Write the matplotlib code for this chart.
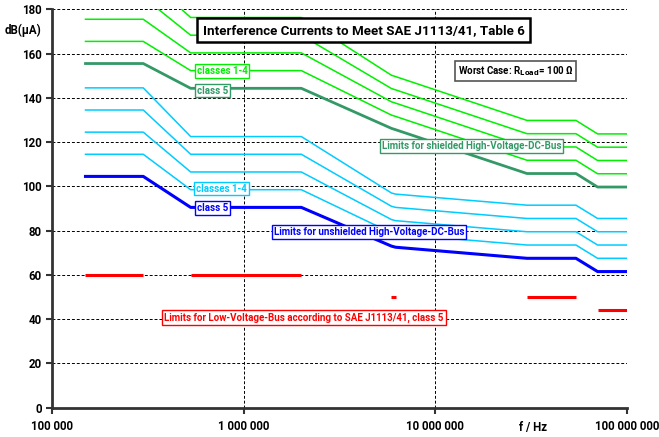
import matplotlib
matplotlib.use("Agg")
import matplotlib.pyplot as plt
from matplotlib.ticker import FixedLocator, NullLocator

plt.rcParams['font.family'] = ['Roboto', 'DejaVu Sans']
plt.rcParams['font.weight'] = 'bold'

# ---------------- data ----------------
freqs = [150e3, 300e3, 530e3, 2e6, 5.9e6, 6.2e6, 30e6, 54e6, 70e6, 100e6]

unshielded_class5 = [104.5, 104.5, 90.5, 90.5, 73.0, 72.5, 67.5, 67.5, 61.5, 61.5]
unshielded_class4 = [114.5, 114.5, 98.5, 98.5, 79.0, 78.5, 73.5, 73.5, 67.5, 67.5]
unshielded_class3 = [124.5, 124.5, 106.5, 106.5, 85.0, 84.5, 79.5, 79.5, 73.5, 73.5]
unshielded_class2 = [134.5, 134.5, 114.5, 114.5, 91.0, 90.5, 85.5, 85.5, 79.5, 79.5]
unshielded_class1 = [144.5, 144.5, 122.5, 122.5, 97.0, 96.5, 91.5, 91.5, 85.5, 85.5]

shielded_class5 = [155.5, 155.5, 144.3, 144.3, 126.2, 125.6, 105.8, 105.8, 99.7, 99.7]
shielded_class4 = [165.5, 165.5, 152.3, 152.3, 132.2, 131.6, 111.8, 111.8, 105.7, 105.7]
shielded_class3 = [175.5, 175.5, 160.3, 160.3, 138.2, 137.6, 117.8, 117.8, 111.7, 111.7]
shielded_class2 = [185.5, 185.5, 168.3, 168.3, 144.2, 143.6, 123.8, 123.8, 117.7, 117.7]
shielded_class1 = [195.5, 195.5, 176.3, 176.3, 150.2, 149.6, 129.8, 129.8, 123.7, 123.7]

lv_band_start = [150e3, 530e3, 5.9e6, 30e6, 70e6]
lv_band_end = [300e3, 2e6, 6.2e6, 54e6, 100e6]
lv_class5 = [60, 60, 50, 50, 44]

x_ticks = [1e5, 1e6, 1e7, 1e8]
x_tick_labels = ["100 000", "1 000 000", "10 000 000", "100 000 000"]
y_ticks = list(range(0, 181, 20))

# ---------------- styles ----------------
W, H = 659, 437
LIME = '#00F000'
SEA = '#339966'
SKY = '#00CCFF'
BLUE = '#0000FF'
RED = '#FF0000'

fig = plt.figure(figsize=(W / 100, H / 100), dpi=100)
ax = fig.add_axes([51.7 / W, 1 - 407.7 / H, (627.3 - 51.7) / W, (407.7 - 9.3) / H])

for s in (shielded_class1, shielded_class2, shielded_class3, shielded_class4):
    ax.plot(freqs, s, color=LIME, lw=1.1, zorder=3)
ax.plot(freqs, shielded_class5, color=SEA, lw=2.0, zorder=3)
for s in (unshielded_class1, unshielded_class2, unshielded_class3, unshielded_class4):
    ax.plot(freqs, s, color=SKY, lw=1.1, zorder=3)
ax.plot(freqs, unshielded_class5, color=BLUE, lw=2.2, zorder=3)
ax.hlines(lv_class5, lv_band_start, lv_band_end, colors=RED, lw=2.2, zorder=3)

ax.set_xscale('log')
ax.set_xlim(1e5, 1e8)
ax.set_ylim(0, 180)
ax.xaxis.set_major_locator(FixedLocator(x_ticks))
ax.xaxis.set_minor_locator(NullLocator())
ax.set_xticklabels(x_tick_labels)
ax.set_yticks(y_ticks)
ax.grid(True, which='major', color='black', lw=0.7, linestyle=(0, (3, 2)))
for side in ('top', 'right'):
    ax.spines[side].set_visible(False)
for side in ('left', 'bottom'):
    ax.spines[side].set_color('#333333')
    ax.spines[side].set_linewidth(2.0)
ax.tick_params(axis='both', which='major', direction='out', length=4, width=1.5,
               color='#333333', labelsize=8.3, pad=3)
ax.tick_params(axis='x', pad=5)
for lbl in ax.get_xticklabels() + ax.get_yticklabels():
    lbl.set_fontweight('bold')


def px(x, y):
    return x / W, 1 - y / H


def box(x, y, text, color, fs=7.0, lw=1.0, ec=None, ha='center'):
    fig.text(*px(x, y), text, color=color, fontsize=fs, fontweight='bold',
             ha=ha, va='center', zorder=10,
             bbox=dict(boxstyle='square,pad=0.2', fc='white',
                       ec=ec if ec else color, lw=lw))


# axis labels
fig.text(*px(23, 30), "dB(µA)", fontsize=8.3, fontweight='bold', ha='center', va='center')
fig.text(*px(533, 427), "f / Hz", fontsize=8.3, fontweight='bold', ha='center', va='center')

# title
fig.text(*px(363.5, 30.3), "Interference Currents to Meet SAE J1113/41, Table 6",
         fontsize=9.6, fontweight='bold', ha='center', va='center', zorder=10,
         bbox=dict(boxstyle='square,pad=0.4', fc='white', ec='black', lw=1.8))

# worst case
fig.text(*px(515.5, 71.3), r"Worst Case: R$_{\mathbf{Load}}$= 100 Ω", fontsize=7.0,
         fontweight='bold', ha='center', va='center', zorder=10,
         bbox=dict(boxstyle='square,pad=0.3', fc='white', ec='#555555', lw=1.2))

box(222, 71, "classes 1-4", LIME)
box(212.5, 90.5, "class 5", SEA)
box(471.5, 146.3, "Limits for shielded High-Voltage-DC-Bus", SEA)
box(221.5, 188.5, "classes 1-4", SKY)
box(212.5, 208, "class 5", BLUE)
box(369, 232.3, "Limits for unshielded High-Voltage-DC-Bus", BLUE)
box(304, 317.5, "Limits for Low-Voltage-Bus according to SAE J1113/41, class 5", RED)

fig.savefig("out.png", dpi=100)
